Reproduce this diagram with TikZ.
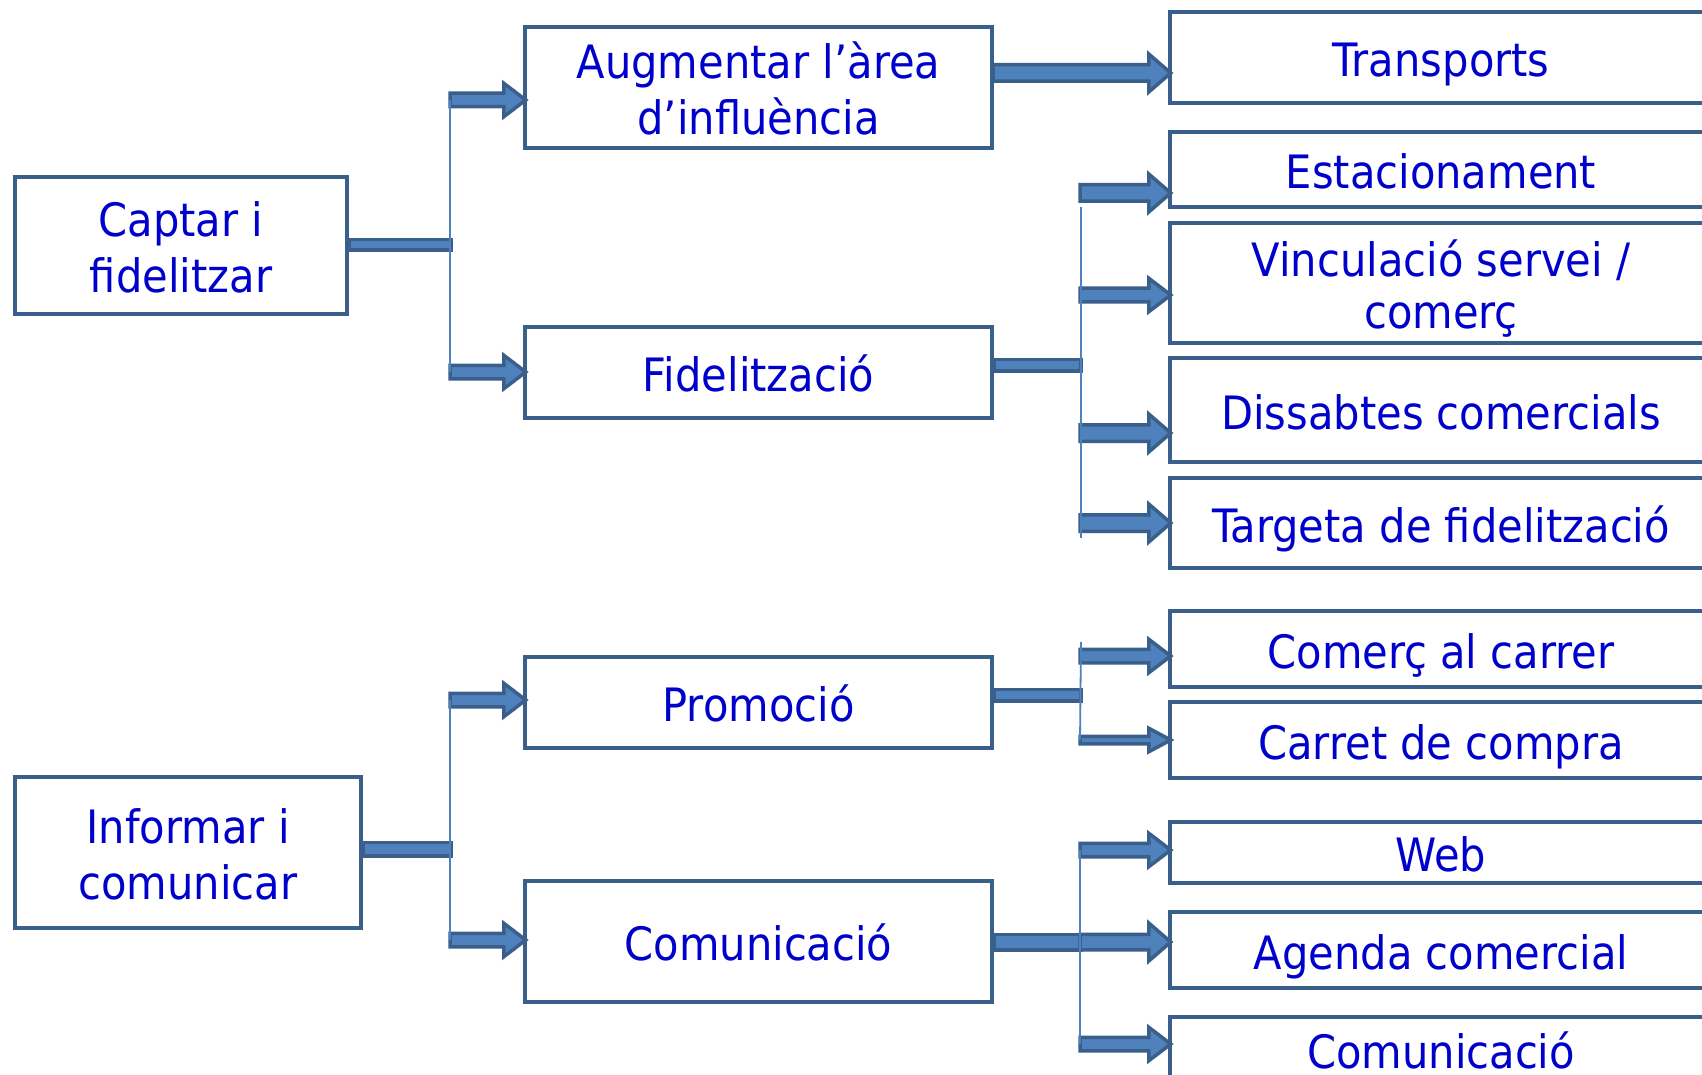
\documentclass[tikz,border=0pt]{standalone}
\usepackage{fontspec}
\setmainfont{DejaVu Sans}[FakeStretch=0.905]
\usetikzlibrary{calc}
\definecolor{bordc}{HTML}{3A5F8B}
\definecolor{fillc}{HTML}{4F81BD}
\definecolor{txtc}{HTML}{0000CC}
\newcommand\blkarrow[4]{\path[arr] let \p1=(#1), \p2=(#2) in
  (\x1,\y1+#3) -- (\x2-19,\y1+#3) -- (\x2-19,\y1+#4) -- (\x2+3,\y1) --
  (\x2-19,\y1-#4) -- (\x2-19,\y1-#3) -- (\x1,\y1-#3) -- cycle;}
\newcommand\blkbar[3]{\path[arr] let \p1=(#1), \p2=(#2) in
  (\x1,\y2+#3) rectangle (\x2,\y2-#3);}
\begin{document}
\begin{tikzpicture}[x=1pt,y=-1pt,
  box/.style={draw=bordc, line width=4.5pt, inner sep=0pt, align=center,
    text=txtc, font=\fontsize{46}{56}\selectfont, text height=38pt, text depth=0pt},
  two/.style={text height=94pt},
  lbox/.style={box, minimum width=467},
  rbox/.style={box, minimum width=542},
  arr/.style={fill=fillc, draw=bordc, line width=3.5pt, line join=miter},
  vline/.style={draw=fillc, line width=1.8pt}]
\useasboundingbox (0,0) rectangle (1702,1075);
\clip (0,0) rectangle (1702,1075);
\fill[white] (0,0) rectangle (1702,1075);

% left column
\node[box, two, minimum width=332, minimum height=137] (captar) at (181,245.5) {Captar i\\fidelitzar};
\node[box, two, minimum width=346, minimum height=151] (informar) at (188,852.5) {Informar i\\comunicar};
% middle column
\node[lbox, two, minimum height=121] (augm) at (758.5,87.5) {Augmentar l’àrea\\d’influència};
\node[lbox, minimum height=91] (fidel) at (758.5,372.5) {Fidelització};
\node[lbox, minimum height=91] (promo) at (758.5,702.5) {Promoció};
\node[lbox, minimum height=121] (comun) at (758.5,941.5) {Comunicació};
% right column
\node[rbox, minimum height=91] (transp) at (1441,57.5) {Transports};
\node[rbox, minimum height=75] (estac) at (1441,169.5) {Estacionament};
\node[rbox, font=\fontsize{46}{52}\selectfont, text height=90pt, minimum height=120] (vinc) at (1441,283) {Vinculació servei /\\comerç};
\node[rbox, minimum height=104] (dissab) at (1441,410) {Dissabtes comercials};
\node[rbox, minimum height=90] (targ) at (1441,523) {Targeta de fidelització};
\node[rbox, minimum height=76] (comerc) at (1441,649) {Comerç al carrer};
\node[rbox, minimum height=76] (carret) at (1441,740) {Carret de compra};
\node[rbox, minimum height=61] (web) at (1441,852.5) {Web};
\node[rbox, minimum height=76] (agenda) at (1441,950) {Agenda comercial};
\node[rbox, minimum height=64] (comun2) at (1441,1049) {Comunicació};

% junction coordinates
\coordinate (jA) at (451,245);
\coordinate (jA1) at (450,100);
\coordinate (jA2) at (450,372);
\coordinate (jT) at (993,73);
\coordinate (jB) at (1081,365);
\coordinate (jB1) at (1080,193);
\coordinate (jB2) at (1080,295);
\coordinate (jB3) at (1080,433);
\coordinate (jB4) at (1080,523);
\coordinate (jBt) at (1081,207);
\coordinate (jBb) at (1081,538);
\coordinate (jC) at (1081,695);
\coordinate (jC1) at (1080,656);
\coordinate (jC2) at (1080,740);
\coordinate (jCt) at (1081,642);
\coordinate (jD) at (1081,942);
\coordinate (jD1) at (1080,850);
\coordinate (jD2) at (1080,942);
\coordinate (jD3) at (1080,1044);
\coordinate (jE) at (451,849);
\coordinate (jE1) at (450,700);
\coordinate (jE2) at (450,940);

% bars
\blkbar{captar.east}{jA}{5.25}
\blkbar{informar.east}{jE}{6.75}
\blkbar{fidel.east}{jB}{5.75}
\blkbar{promo.east}{jC}{5.75}
\blkbar{comun.east}{jD}{7.75}

% arrows
\blkarrow{jA1}{augm.west}{6.75}{16.75}
\blkarrow{jA2}{fidel.west}{6.75}{16.75}
\blkarrow{jT}{transp.west}{8.25}{19}
\blkarrow{jB1}{estac.west}{8.25}{19}
\blkarrow{jB2}{vinc.west}{6.75}{16.75}
\blkarrow{jB3}{dissab.west}{8.25}{19}
\blkarrow{jB4}{targ.west}{8.25}{19}
\blkarrow{jC1}{comerc.west}{6.75}{16.75}
\blkarrow{jC2}{carret.west}{3.75}{11.75}
\blkarrow{jD1}{web.west}{6.75}{16.75}
\blkarrow{jD2}{agenda.west}{7.75}{19}
\blkarrow{jD3}{comun2.west}{6.75}{16.75}
\blkarrow{jE1}{promo.west}{6.75}{16.75}
\blkarrow{jE2}{comun.west}{6.75}{16.75}

% thin vertical lines
\draw[vline] (jA1) -- (jA2);
\draw[vline] (jBt) -- (jBb);
\draw[vline] (jCt) -- (jC2);
\draw[vline] (jD1) -- (jD3);
\draw[vline] (jE1) -- (jE2);
\end{tikzpicture}
\end{document}
